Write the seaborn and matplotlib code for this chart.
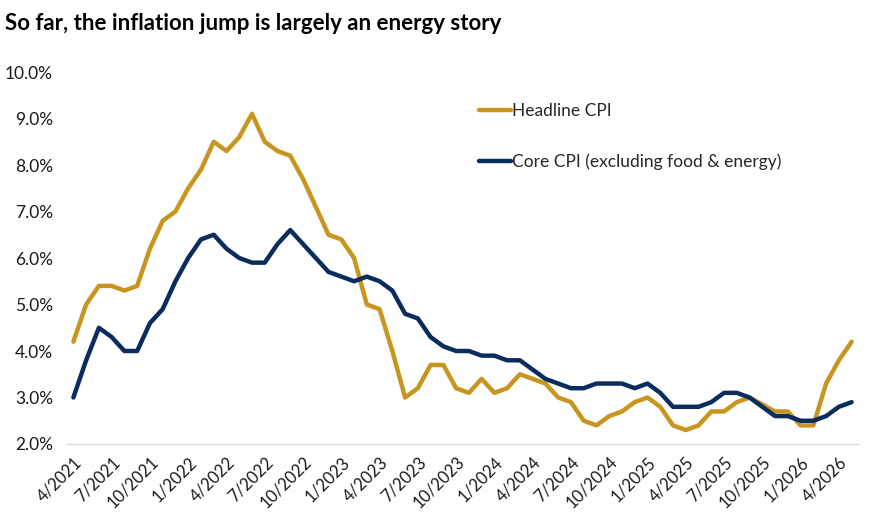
import matplotlib

matplotlib.use("Agg")
import matplotlib.pyplot as plt
import numpy as np
import pandas as pd
import seaborn as sns

# ---- data (monthly, 4/2021 .. 5/2026, y/y %) ----
months = [
    "4/2021", "5/2021", "6/2021", "7/2021", "8/2021", "9/2021", "10/2021", "11/2021", "12/2021",
    "1/2022", "2/2022", "3/2022", "4/2022", "5/2022", "6/2022", "7/2022", "8/2022", "9/2022",
    "10/2022", "11/2022", "12/2022",
    "1/2023", "2/2023", "3/2023", "4/2023", "5/2023", "6/2023", "7/2023", "8/2023", "9/2023",
    "10/2023", "11/2023", "12/2023",
    "1/2024", "2/2024", "3/2024", "4/2024", "5/2024", "6/2024", "7/2024", "8/2024", "9/2024",
    "10/2024", "11/2024", "12/2024",
    "1/2025", "2/2025", "3/2025", "4/2025", "5/2025", "6/2025", "7/2025", "8/2025", "9/2025",
    "10/2025", "11/2025", "12/2025",
    "1/2026", "2/2026", "3/2026", "4/2026", "5/2026",
]
headline = [
    4.2, 5.0, 5.4, 5.4, 5.3, 5.4, 6.2, 6.8, 7.0,
    7.5, 7.9, 8.5, 8.3, 8.6, 9.1, 8.5, 8.3, 8.2, 7.7, 7.1, 6.5,
    6.4, 6.0, 5.0, 4.9, 4.0, 3.0, 3.2, 3.7, 3.7, 3.2, 3.1, 3.4,
    3.1, 3.2, 3.5, 3.4, 3.3, 3.0, 2.9, 2.5, 2.4, 2.6, 2.7, 2.9,
    3.0, 2.8, 2.4, 2.3, 2.4, 2.7, 2.7, 2.9, 3.0, 2.85, 2.7, 2.7,
    2.4, 2.4, 3.3, 3.8, 4.2,
]
core = [
    3.0, 3.8, 4.5, 4.3, 4.0, 4.0, 4.6, 4.9, 5.5,
    6.0, 6.4, 6.5, 6.2, 6.0, 5.9, 5.9, 6.3, 6.6, 6.3, 6.0, 5.7,
    5.6, 5.5, 5.6, 5.5, 5.3, 4.8, 4.7, 4.3, 4.1, 4.0, 4.0, 3.9,
    3.9, 3.8, 3.8, 3.6, 3.4, 3.3, 3.2, 3.2, 3.3, 3.3, 3.3, 3.2,
    3.3, 3.1, 2.8, 2.8, 2.8, 2.9, 3.1, 3.1, 3.0, 2.8, 2.6, 2.6,
    2.5, 2.5, 2.6, 2.8, 2.9,
]
series_names = ["Headline CPI", "Core CPI (excluding food & energy)"]
colors = ["#C8951F", "#0B2D5E"]
y_ticks = [2.0, 3.0, 4.0, 5.0, 6.0, 7.0, 8.0, 9.0, 10.0]

# ---- long-form frame for seaborn ----
idx = np.arange(len(months))
df = pd.concat(
    [
        pd.DataFrame({"i": idx, "value": headline, "series": series_names[0]}),
        pd.DataFrame({"i": idx, "value": core, "series": series_names[1]}),
    ]
)

sns.set_style("white")
plt.rcParams["font.family"] = ["Lato", "DejaVu Sans"]

fig = plt.figure(figsize=(8.74, 5.30), dpi=100)
ax = fig.add_axes([67 / 874, 1 - 444 / 530, (858 - 67) / 874, (444 - 72) / 530])

sns.lineplot(
    data=df, x="i", y="value", hue="series", palette=colors, linewidth=3.2,
    ax=ax, solid_joinstyle="round", solid_capstyle="round",
)

ax.set_xlim(-0.5, len(months) - 0.5)
ax.set_ylim(2.0, 10.0)
ax.set_xlabel("")
ax.set_ylabel("")

# y axis: labels only
ax.set_yticks(y_ticks)
ax.set_yticklabels([f"{v:.1f}%" for v in y_ticks], fontsize=12.5, color="#1a1a1a")
ax.tick_params(axis="y", length=0, pad=10)

# x axis: labels every 3 months, tick marks at category boundaries
label_pos = idx[::3]
ax.set_xticks(label_pos)
ax.set_xticklabels([months[i] for i in label_pos], rotation=45, ha="right",
                   rotation_mode="anchor", fontsize=12, color="#1a1a1a")
ax.set_xticks(np.arange(-0.5, len(months) - 1, 3), minor=True)
ax.tick_params(axis="x", which="major", length=0, pad=7)
ax.tick_params(axis="x", which="minor", length=5, color="#D9D9D9", width=1)

for side in ["top", "right", "left"]:
    ax.spines[side].set_visible(False)
ax.spines["bottom"].set_color("#D9D9D9")
ax.spines["bottom"].set_linewidth(1)

leg = ax.legend(
    loc="upper left", bbox_to_anchor=(470 / 874, 1 - 94 / 530),
    bbox_transform=fig.transFigure, frameon=False, fontsize=12.5,
    handlelength=1.85, handletextpad=0.05, labelspacing=2.0, borderpad=0,
)
for line in leg.get_lines():
    line.set_linewidth(3.2)

fig.text(5 / 874, 1 - 23 / 530, "So far, the inflation jump is largely an energy story",
         fontsize=16, fontweight="bold", va="center", ha="left", color="black")

fig.savefig("out.png", dpi=100, facecolor="white")
